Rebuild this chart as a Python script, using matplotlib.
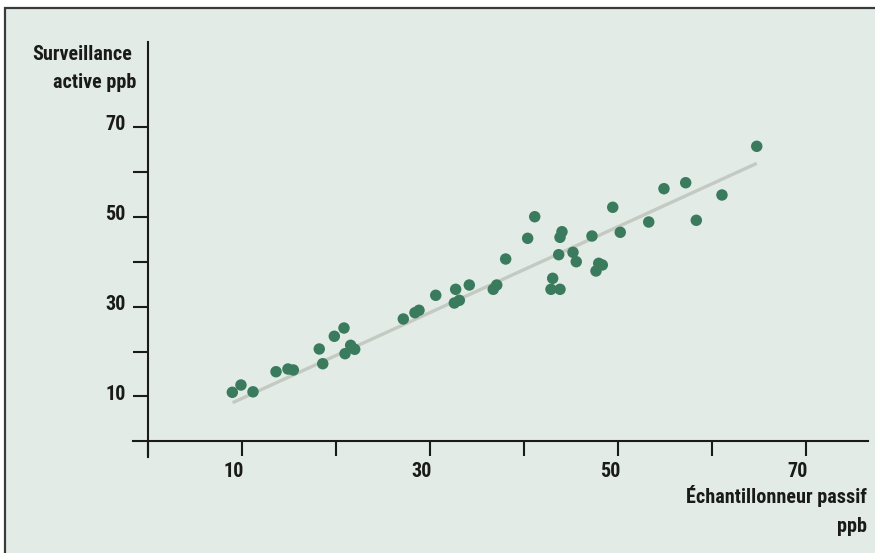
import matplotlib
matplotlib.use("Agg")
import matplotlib.pyplot as plt
from matplotlib.patches import Rectangle
from matplotlib.ticker import FixedLocator, NullFormatter
from matplotlib.transforms import ScaledTranslation
from matplotlib import font_manager

# ---- data ----
passive_ppb = [8.97, 9.89, 11.17, 13.62, 14.89, 15.46, 18.22, 18.59, 19.82, 20.85,
               20.96, 21.56, 21.99, 27.16, 28.40, 28.83, 30.61, 32.59, 32.73, 33.12,
               34.18, 36.73, 37.10, 38.05, 40.39, 41.14, 43.05, 42.87, 43.83, 43.69,
               43.83, 44.04, 45.21, 45.56, 47.23, 47.66, 47.95, 48.33, 49.44, 50.24,
               53.27, 54.89, 57.20, 58.33, 61.06, 64.76]
active_ppb = [10.91, 12.54, 11.02, 15.50, 16.10, 15.88, 20.56, 17.28, 23.39, 25.23,
              19.51, 21.38, 20.49, 27.24, 28.64, 29.18, 32.52, 30.80, 33.85, 31.40,
              34.81, 33.85, 34.81, 40.60, 45.21, 50.02, 36.30, 33.85, 33.85, 41.56,
              45.43, 46.68, 42.09, 40.00, 45.72, 37.93, 39.64, 39.27, 52.12, 46.55,
              48.84, 56.26, 57.59, 49.22, 54.86, 65.70]
trend_x = [9.0, 64.76]
trend_y = [8.6, 61.9]
x_major = [10, 30, 50, 70]
x_minor = [0, 20, 40, 60]
y_major = [10, 30, 50, 70]
y_minor = [20, 40, 60]
y_label_lines = ["Surveillance", "active ppb"]
x_label_lines = ["Échantillonneur passif", "ppb"]

# ---- font choice: prefer a narrow / condensed face ----
names = sorted({f.name for f in font_manager.fontManager.ttflist})
narrow = None
for pref in ["Liberation Sans Narrow", "Roboto Condensed", "Open Sans Condensed",
             "Noto Sans Condensed", "Arial Narrow"]:
    if pref in names:
        narrow = pref
        break
if narrow is None:
    for n in names:
        if "Narrow" in n or "Condensed" in n:
            narrow = n
            break
STRETCH = "normal"
if narrow is None:
    for f in font_manager.fontManager.ttflist:
        if f.name in ("Noto Sans", "Open Sans", "Roboto") and (
                f.stretch in ("condensed", "semi-condensed") or
                (isinstance(f.stretch, (int, float)) and f.stretch < 100)):
            narrow = f.name
            STRETCH = "condensed"
            break
if narrow is None:
    narrow = "Liberation Sans"
FONT = [narrow, "DejaVu Sans"]
FS = 14.5
if STRETCH != "normal":
    FS = 13
if narrow == "Liberation Sans":
    FS = 12

# ---- style ----
W, H = 875, 553
BG = "#e2ebe6"
DOT = "#3a7b5d"
TREND = "#c4cac1"
INK = "#1a1a1a"
plt.rcParams["font.family"] = FONT
plt.rcParams["font.weight"] = "bold"
plt.rcParams["font.stretch"] = STRETCH

fig = plt.figure(figsize=(W / 100, H / 100), dpi=100)
fig.patch.set_facecolor("white")


def fx(px):
    return px / W


def fy(py):
    return 1 - py / H


panel = Rectangle((fx(5), fy(H + 10)), 1.2, fy(8) - fy(H + 10),
                  transform=fig.transFigure, facecolor=BG, edgecolor="#3a3a3a",
                  linewidth=1.6, zorder=-5)
fig.patches.append(panel)

left, right, top, bottom = 133, 868, 42, 457
ax = fig.add_axes([fx(left), fy(bottom), fx(right) - fx(left), fy(top) - fy(bottom)])
ax.set_zorder(2)
ax.set_facecolor("none")

x0px, xs = 148, 9.4
y0px, ys = 441.3, 4.49
ax.set_xlim(-(x0px - left) / xs, (right - x0px) / xs)
ax.set_ylim(-(bottom - y0px) / ys, (y0px - top) / ys)

ax.plot(trend_x, trend_y, color=TREND, linewidth=2.4, solid_capstyle="butt", zorder=2)
ax.scatter(passive_ppb, active_ppb, s=68, color=DOT, edgecolors="none", zorder=3)

for s in ["top", "right"]:
    ax.spines[s].set_visible(False)
for s in ["left", "bottom"]:
    ax.spines[s].set_position(("data", 0))
    ax.spines[s].set_linewidth(1.5)
    ax.spines[s].set_color(INK)

ax.xaxis.set_major_locator(FixedLocator(x_major))
ax.xaxis.set_minor_locator(FixedLocator(x_minor))
ax.yaxis.set_major_locator(FixedLocator(y_major))
ax.yaxis.set_minor_locator(FixedLocator(y_minor))
ax.xaxis.set_minor_formatter(NullFormatter())
ax.yaxis.set_minor_formatter(NullFormatter())
ax.set_xticklabels([str(v) for v in x_major])
ax.set_yticklabels([str(v) for v in y_major])
ax.tick_params(axis="both", which="both", direction="out", length=11, width=1.5,
               color=INK, labelsize=FS, labelcolor=INK)
ax.tick_params(axis="x", which="major", pad=4)
ax.tick_params(axis="y", which="major", pad=5)

xshift = ScaledTranslation(-8 / 100, 0, fig.dpi_scale_trans)
yshift = ScaledTranslation(0, 4 / 100, fig.dpi_scale_trans)
for lab in ax.get_xticklabels():
    lab.set_fontweight("bold")
    lab.set_fontstretch(STRETCH)
    lab.set_transform(lab.get_transform() + xshift)
for lab in ax.get_yticklabels():
    lab.set_fontweight("bold")
    lab.set_fontstretch(STRETCH)
    lab.set_transform(lab.get_transform() + yshift)

kw = dict(fontsize=FS, fontweight="bold", color=INK, fontstretch=STRETCH)
fig.text(fx(132.5), fy(60), y_label_lines[0], ha="right", va="baseline", **kw)
fig.text(fx(136), fy(87.5), y_label_lines[1], ha="right", va="baseline", **kw)
fig.text(fx(866.5), fy(503), x_label_lines[0], ha="right", va="baseline", **kw)
fig.text(fx(866.5), fy(532), x_label_lines[1], ha="right", va="baseline", **kw)

fig.savefig("out.png", dpi=100, facecolor=fig.get_facecolor())
